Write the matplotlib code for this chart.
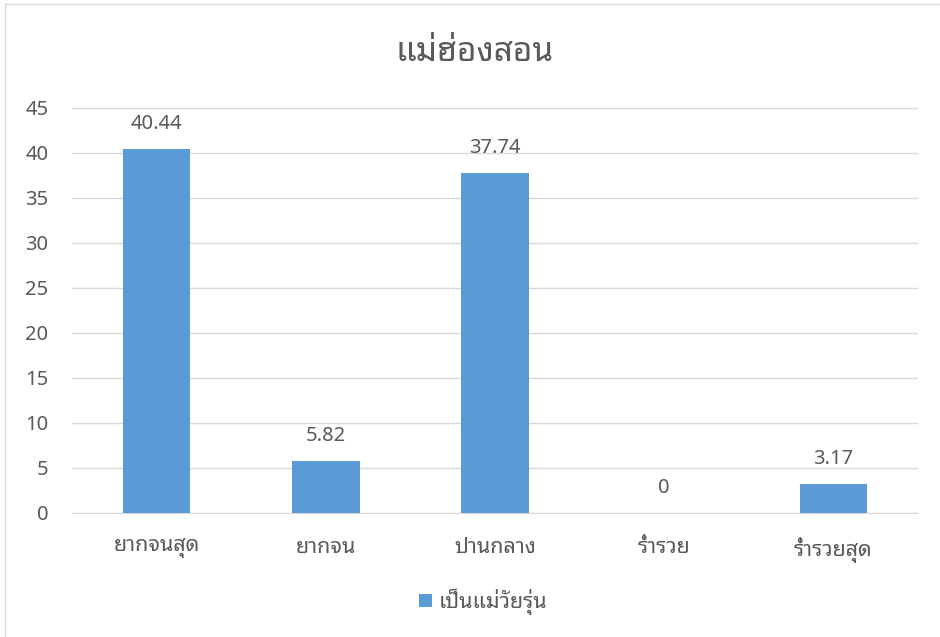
import matplotlib
matplotlib.use("Agg")
import matplotlib.pyplot as plt
from matplotlib.lines import Line2D

plt.rcParams['font.family'] = ['Noto Sans', 'Noto Sans Thai Looped', 'DejaVu Sans']

categories = ['ยากจนสุด', 'ยากจน', 'ปานกลาง', 'ร่ำรวย', 'ร่ำรวยสุด']
values = [40.44, 5.82, 37.74, 0, 3.17]
value_labels = ['40.44', '5.82', '37.74', '0', '3.17']
series_name = 'เป็นแม่วัยรุ่น'
title = 'แม่ฮ่องสอน'

text_color = '#595959'
bar_color = '#5B9BD5'
grid_color = '#D9D9D9'

fig = plt.figure(figsize=(9.4, 6.37), dpi=100)
ax = fig.add_axes([0.0766, 0.1947, 0.9, 0.6358])

x = range(len(categories))
ax.bar(x, values, width=0.4, color=bar_color, label=series_name, zorder=3)

for xi, v, lab in zip(x, values, value_labels):
    ax.annotate(lab, (xi, v), xytext=(0, 18), textcoords='offset points',
                ha='center', va='center', fontsize=14.5, color=text_color)

ax.set_xlim(-0.5, len(categories) - 0.5)
ax.set_ylim(0, 45)
ax.set_yticks(range(0, 46, 5))
ax.set_xticks(list(x))
ax.set_xticklabels(categories, fontsize=15.5)
ax.tick_params(axis='both', length=0, colors=text_color)
ax.tick_params(axis='y', labelsize=14.5, pad=17)
ax.tick_params(axis='x', pad=17)
ax.grid(axis='y', color=grid_color, linewidth=1, zorder=0)
for s in ['top', 'right', 'left']:
    ax.spines[s].set_visible(False)
ax.spines['bottom'].set_color(grid_color)

fig.text(0.505, 0.917, title, ha='center', va='center', fontsize=24, color=text_color)

fig.legend(loc='center', bbox_to_anchor=(0.514, 0.055), frameon=False,
           fontsize=15.5, labelcolor=text_color, handlelength=0.6, handleheight=0.6,
           handletextpad=0.3)

# chart border (only top and left edges fall inside the image)
fig.add_artist(Line2D([5 / 940, 1.0], [1 - 4 / 637, 1 - 4 / 637], transform=fig.transFigure,
                      color='#D9D9D9', linewidth=1))
fig.add_artist(Line2D([5 / 940, 5 / 940], [0.0, 1 - 4 / 637], transform=fig.transFigure,
                      color='#D9D9D9', linewidth=1))

fig.savefig('out.png')
